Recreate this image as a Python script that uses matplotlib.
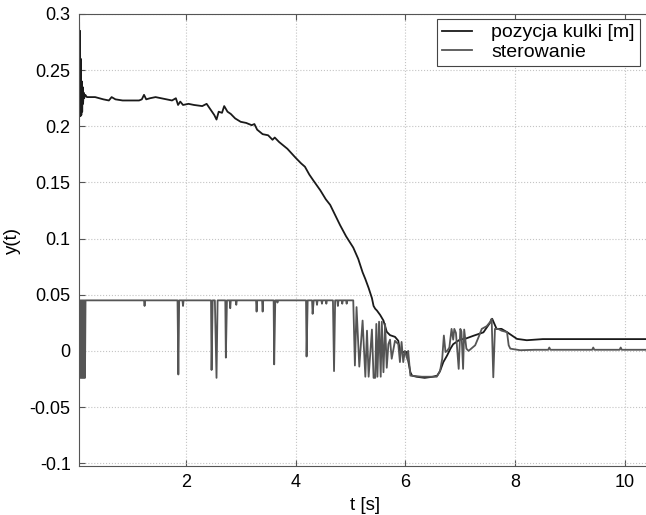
import matplotlib
matplotlib.use("Agg")
import matplotlib.pyplot as plt

plt.rcParams['font.family'] = ['Liberation Sans', 'DejaVu Sans']

# pozycja kulki [m]
t_pos = [0.058, 0.066, 0.074, 0.082, 0.090, 0.098, 0.106, 0.114, 0.122, 0.130, 0.14,
         0.15, 0.17, 0.2, 0.35, 0.5, 0.6, 0.65, 0.72, 0.85, 1.0, 1.15, 1.2, 1.24, 1.28,
         1.35, 1.45, 1.55, 1.65, 1.75, 1.82, 1.86, 1.9, 1.95, 2.05, 2.15, 2.3, 2.38,
         2.45, 2.52, 2.56, 2.6, 2.66, 2.7, 2.76, 2.82, 2.9, 3.0, 3.1, 3.2, 3.25, 3.3,
         3.4, 3.5, 3.58, 3.62, 3.7, 3.85, 4.0, 4.1, 4.17, 4.25, 4.32, 4.45, 4.55, 4.63,
         4.72, 4.81, 4.92, 5.05, 5.14, 5.22, 5.27, 5.33, 5.39, 5.42, 5.45, 5.48, 5.54,
         5.60, 5.66, 5.72, 5.81, 5.87, 5.90, 5.96, 6.02, 6.09, 6.12, 6.2, 6.35, 6.5,
         6.58, 6.63, 6.69, 6.76, 6.82, 6.87, 6.99, 7.1, 7.24, 7.42, 7.54, 7.58, 7.66,
         7.75, 7.85, 8.03, 8.21, 8.5, 9.0, 10.5]
y_pos = [0.292, 0.210, 0.285, 0.209, 0.260, 0.210, 0.240, 0.213, 0.235, 0.220, 0.230,
         0.225, 0.228, 0.226, 0.226, 0.224, 0.223, 0.226, 0.224, 0.223, 0.223, 0.223,
         0.224, 0.228, 0.224, 0.225, 0.226, 0.225, 0.224, 0.223, 0.225, 0.219, 0.222,
         0.219, 0.220, 0.219, 0.218, 0.220, 0.215, 0.210, 0.206, 0.213, 0.212, 0.218,
         0.213, 0.211, 0.207, 0.204, 0.203, 0.201, 0.202, 0.197, 0.193, 0.192, 0.188,
         0.190, 0.186, 0.180, 0.172, 0.167, 0.164, 0.157, 0.152, 0.143, 0.135, 0.130,
         0.121, 0.112, 0.102, 0.092, 0.082, 0.070, 0.064, 0.056, 0.047, 0.040, 0.0375,
         0.036, 0.032, 0.027, 0.017, 0.014, 0.0125, 0.009, 0.000, -0.001, -0.001,
         -0.019, -0.022, -0.023, -0.024, -0.023, -0.022, -0.018, -0.010, -0.004, 0.002,
         0.006, 0.010, 0.011, 0.0135, 0.0165, 0.025, 0.0286, 0.0196, 0.0196, 0.0167,
         0.0107, 0.0095, 0.0105, 0.0105, 0.0105]

# sterowanie
t_ctrl = [0.058, 0.065, 0.075, 0.085, 0.095, 0.105, 0.115, 0.125, 0.135, 0.145, 0.155, 0.165, 0.175,
          1.24, 1.25, 1.26,
          1.85, 1.865, 1.88, 1.94, 1.95, 1.96,
          2.46, 2.47, 2.49, 2.53, 2.56, 2.58, 2.72, 2.73, 2.75, 2.80, 2.81, 2.82,
          2.91, 2.92, 2.93,
          3.28, 3.29, 3.30, 3.39, 3.40, 3.41, 3.60, 3.61, 3.63, 3.66, 3.67, 3.68,
          4.19, 4.20, 4.22, 4.30, 4.31, 4.33, 4.38, 4.39, 4.40, 4.47, 4.48, 4.49,
          4.55, 4.56, 4.57,
          4.68, 4.70, 4.72, 4.76, 4.77, 4.78, 4.84, 4.85, 4.86, 4.92, 4.93, 4.94,
          5.05, 5.08, 5.11, 5.16, 5.22, 5.27, 5.30, 5.33, 5.39, 5.42,
          5.45, 5.47, 5.49, 5.52, 5.55, 5.57, 5.60, 5.63, 5.66, 5.69,
          5.72, 5.75, 5.81, 5.87, 5.90, 5.93, 5.96, 5.99, 6.04, 6.05,
          6.09, 6.3, 6.57, 6.63, 6.67, 6.70, 6.73, 6.76, 6.80, 6.84,
          6.87, 6.89, 6.92, 6.97, 7.00, 7.02, 7.05, 7.07, 7.11, 7.15,
          7.27, 7.33, 7.39, 7.48, 7.54, 7.57, 7.60, 7.63, 7.69, 7.75,
          7.85, 7.88, 7.91, 8.09, 8.36, 8.6, 8.62, 8.64, 9.4, 9.42,
          9.44, 9.9, 9.92, 9.94, 10.5]
u_ctrl = [0.045, -0.024, 0.045, -0.024, 0.045, -0.024, 0.045, -0.024, 0.045, -0.024, 0.045, -0.024, 0.045,
          0.045, 0.040, 0.045,
          0.045, -0.021, 0.045, 0.045, 0.040, 0.045,
          0.045, -0.017, 0.045, 0.045, -0.024, 0.045, 0.045, -0.006, 0.045, 0.045, 0.038, 0.045,
          0.045, 0.041, 0.045,
          0.045, 0.035, 0.045, 0.045, 0.035, 0.045, 0.045, -0.012, 0.045, 0.045, 0.043, 0.045,
          0.045, -0.005, 0.045, 0.045, 0.033, 0.045, 0.045, 0.041, 0.045, 0.045, 0.042, 0.045,
          0.045, 0.042, 0.045,
          0.045, -0.018, 0.045, 0.045, 0.040, 0.045, 0.045, 0.042, 0.045, 0.045, 0.042, 0.045,
          0.045, -0.013, 0.039, -0.014, 0.027, -0.023, 0.018, -0.023, 0.019, -0.024,
          -0.024, 0.024, -0.023, 0.026, -0.023, 0.026, -0.019, 0.024, -0.015, 0.006,
          0.010, -0.007, 0.009, 0.006, -0.010, 0.008, -0.010, 0.000, -0.008, 0.000,
          -0.022, -0.023, -0.023, -0.018, -0.007, 0.0137, -0.001, 0.000, 0.003, 0.0196,
          0.010, 0.0196, 0.016, -0.016, 0.0196, 0.017, -0.016, 0.019, 0.002, 0.000,
          0.005, 0.012, 0.0196, 0.022, 0.0256, 0.0286, -0.0235, 0.0196, 0.0196, 0.018,
          0.0167, 0.005, 0.002, 0.0006, 0.001, 0.001, 0.003, 0.001, 0.001, 0.003,
          0.001, 0.001, 0.003, 0.001, 0.001]

x_ticks = [2, 4, 6, 8, 10]
y_ticks = [-0.1, -0.05, 0, 0.05, 0.1, 0.15, 0.2, 0.25, 0.3]
y_ticklabels = ['-0.1', '-0.05', '0', '0.05', '0.1', '0.15', '0.2', '0.25', '0.3']

W, H = 646, 515
fig = plt.figure(figsize=(W / 100, H / 100), dpi=100)
ax_l, ax_r, ax_t, ax_b = 79, 652, 14, 466
ax = fig.add_axes([ax_l / W, 1 - ax_b / H, (ax_r - ax_l) / W, (ax_b - ax_t) / H])

ax.plot(t_pos, y_pos, color='#1a1a1a', lw=1.3, label='pozycja kulki [m]')
ax.plot(t_ctrl, u_ctrl, color='#555555', lw=1.3, label='sterowanie')

ax.set_xlim(0.056, 10.49)
ax.set_ylim(-0.1025, 0.3)
ax.set_xticks(x_ticks)
ax.set_xticklabels([str(v) for v in x_ticks])
ax.set_yticks(y_ticks)
ax.set_yticklabels(y_ticklabels)
ax.tick_params(direction='in', top=True, right=False, labelsize=13, length=4,
               color='#555555', width=0.8, pad=6)
ax.grid(True, linestyle=':', color='#c4c4c4', lw=0.8)
for s in ['left', 'bottom', 'top']:
    ax.spines[s].set_color('#555555')
ax.spines['right'].set_visible(False)

ax.set_xlabel('t [s]', fontsize=13.5, labelpad=4)
ax.set_ylabel('y(t)', fontsize=13.5, labelpad=6)

leg = ax.legend(loc='upper left',
                bbox_to_anchor=((437 - ax_l) / (ax_r - ax_l), 1 - (19 - ax_t) / (ax_b - ax_t)),
                fontsize=14, frameon=True, fancybox=False, framealpha=1,
                edgecolor='#444444', handlelength=1.55, borderpad=0.25,
                labelspacing=0.1, handletextpad=1.0, borderaxespad=0)
leg.get_frame().set_linewidth(0.8)

fig.savefig('out.png', dpi=100)
